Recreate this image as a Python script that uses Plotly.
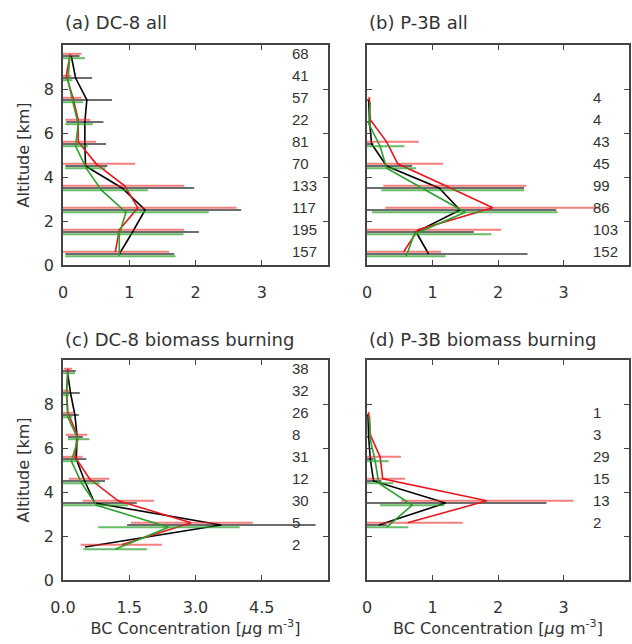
import plotly.graph_objects as go
from plotly.subplots import make_subplots

# ---- data (altitude bins in km, BC in ug m-3) ----
a_alt = [9.5, 8.5, 7.5, 6.5, 5.5, 4.5, 3.5, 2.5, 1.5, 0.5]
a_n = [68, 41, 57, 22, 81, 70, 133, 117, 195, 157]
a_black = [0.125, 0.19, 0.36, 0.33, 0.33, 0.34, 0.89, 1.24, 1.05, 0.85]
a_black_lo = [0, 0, 0, 0.05, 0, 0.035, 0, 0, 0, 0.035]
a_black_hi = [0.25, 0.44, 0.74, 0.61, 0.65, 0.67, 1.98, 2.69, 2.05, 1.68]
a_red = [0.11, 0.05, 0.15, 0.23, 0.23, 0.5, 0.93, 1.13, 0.85, 0.79]
a_red_lo = [0, 0, 0, 0.035, 0, 0, 0, 0, 0, 0]
a_red_hi = [0.28, 0.125, 0.28, 0.41, 0.5, 1.09, 1.83, 2.62, 1.83, 1.6]
a_green = [0.10, 0.075, 0.15, 0.23, 0.19, 0.35, 0.58, 0.95, 0.85, 0.85]
a_green_lo = [0, 0, 0, 0.035, 0, 0.035, 0, 0, 0, 0.035]
a_green_hi = [0.33, 0.14, 0.30, 0.45, 0.38, 0.64, 1.28, 2.2, 1.82, 1.7]

b_alt = [7.5, 6.5, 5.5, 4.5, 3.5, 2.5, 1.5, 0.5]
b_n = [4, 4, 43, 45, 99, 86, 103, 152]
b_black = [0.025, 0.04, 0.07, 0.30, 1.1, 1.42, 0.75, 0.94]
b_black_lo = [0, 0, 0, 0, 0, 0, 0, 0]
b_black_hi = [0.04, 0.05, 0.1, 0.69, 2.4, 2.89, 1.63, 2.45]
b_red = [0.035, 0.05, 0.3, 0.47, 1.2, 1.92, 0.78, 0.56]
b_red_lo = [0.02, 0.04, 0, 0, 0.25, 0.28, 0, 0]
b_red_hi = [0.05, 0.06, 0.79, 1.16, 2.43, 3.55, 2.05, 1.13]
b_green = [0.05, 0.03, 0.2, 0.3, 0.9, 1.5, 0.72, 0.6]
b_green_lo = [0.04, 0.02, 0, 0, 0.22, 0.075, 0, 0]
b_green_hi = [0.06, 0.04, 0.57, 0.75, 2.4, 2.91, 1.9, 1.2]

c_alt = [9.5, 8.5, 7.5, 6.5, 5.5, 4.5, 3.5, 2.5, 1.5]
c_n = [38, 32, 26, 8, 31, 12, 30, 5, 2]
c_black = [0.1, 0.17, 0.27, 0.32, 0.30, 0.49, 0.72, 3.58, 0.5]
c_black_lo = [0, 0, 0, 0.11, 0, 0, 0, 1.45, 0.5]
c_black_hi = [0.29, 0.38, 0.36, 0.45, 0.53, 0.95, 1.67, 5.72, 0.5]
c_red = [0.11, 0.08, 0.11, 0.32, 0.27, 0.6, 1.25, 2.9, 1.33]
c_red_lo = [0.02, 0, 0, 0.06, 0, 0.13, 0.45, 1.54, 0.4]
c_red_hi = [0.21, 0.15, 0.23, 0.55, 0.44, 1.05, 2.06, 4.3, 2.24]
c_green = [0.11, 0.08, 0.11, 0.34, 0.19, 0.42, 0.76, 2.39, 1.18]
c_green_lo = [0, 0, 0, 0.11, 0, 0, 0, 0.8, 0.46]
c_green_hi = [0.27, 0.14, 0.21, 0.6, 0.36, 0.83, 1.48, 4.0, 1.9]

d_alt = [7.5, 6.5, 5.5, 4.5, 3.5, 2.5]
d_n = [1, 3, 29, 15, 13, 2]
d_black = [0.015, 0.025, 0.05, 0.1, 1.2, 0.18]
d_black_lo = [0, 0, 0, 0, 0, 0]
d_black_hi = [0.03, 0.04, 0.1, 0.22, 2.74, 0.3]
d_red = [0.025, 0.05, 0.2, 0.24, 1.83, 0.62]
d_red_lo = [0.01, 0.03, 0, 0, 0.52, 0]
d_red_hi = [0.04, 0.07, 0.52, 0.58, 3.15, 1.46]
d_green = [0.04, 0.05, 0.125, 0.18, 0.69, 0.3]
d_green_lo = [0.03, 0.04, 0, 0, 0.2, 0]
d_green_hi = [0.05, 0.06, 0.33, 0.4, 1.18, 0.63]

titles = ["(a) DC-8 all", "(b) P-3B all",
          "(c) DC-8 biomass burning", "(d) P-3B biomass burning"]

FONT = "Liberation Sans, Arial, sans-serif"
WIDE = "DejaVu Sans, Verdana, sans-serif"
TXT = "#333333"

fig = make_subplots(rows=2, cols=2)

panels = [
    (1, 1, a_alt, a_n, [(a_black, a_black_lo, a_black_hi), (a_red, a_red_lo, a_red_hi), (a_green, a_green_lo, a_green_hi)]),
    (1, 2, b_alt, b_n, [(b_black, b_black_lo, b_black_hi), (b_red, b_red_lo, b_red_hi), (b_green, b_green_lo, b_green_hi)]),
    (2, 1, c_alt, c_n, [(c_black, c_black_lo, c_black_hi), (c_red, c_red_lo, c_red_hi), (c_green, c_green_lo, c_green_hi)]),
    (2, 2, d_alt, d_n, [(d_black, d_black_lo, d_black_hi), (d_red, d_red_lo, d_red_hi), (d_green, d_green_lo, d_green_hi)]),
]

# line colour, error-bar colour, small vertical offset so the bars don't overlap
styles = [
    ("black", "rgba(60,60,60,0.75)", 0.0),
    ("#e8161c", "rgba(235,40,40,0.6)", 0.1),
    ("#2ca02c", "rgba(40,160,40,0.7)", -0.1),
]

for row, col, alt, counts, series in panels:
    for (mean, lo, hi), (lc, ec, dz) in zip(series, styles):
        fig.add_trace(go.Scatter(
            x=mean, y=[z + dz for z in alt], mode="lines",
            line=dict(color=lc, width=1.6),
            error_x=dict(type="data", symmetric=False,
                         array=[h - m for h, m in zip(hi, mean)],
                         arrayminus=[m - l for m, l in zip(mean, lo)],
                         color=ec, thickness=2, width=0),
            showlegend=False,
        ), row=row, col=col)
    xlab = 5.14 if (row, col) == (2, 1) else 3.42
    for z, n in zip(alt, counts):
        fig.add_annotation(x=xlab, y=z + 0.13, text=str(n), showarrow=False,
                           xanchor="left", yanchor="middle",
                           font=dict(size=15, color=TXT, family=FONT),
                           row=row, col=col)

# panel geometry (pixels -> paper)
W, H = 632, 644
xdom = [(63 / W, 328 / W), (367 / W, 629 / W)]
ydom = [(1 - 265 / H, 1 - 45 / H), (1 - 580 / H, 1 - 360 / H)]

axis_common = dict(showline=True, linecolor="#444444", linewidth=1.5, mirror="ticks",
                   ticks="inside", ticklen=5, tickcolor="#444444",
                   showgrid=False, zeroline=False, automargin=False,
                   tickfont=dict(size=16, color=TXT, family=WIDE))

for r in (1, 2):
    for c in (1, 2):
        if (r, c) == (2, 1):
            xt = dict(range=[0, 6], tickvals=[0, 1.5, 3, 4.5], ticktext=["0.0", "1.5", "3.0", "4.5"])
        else:
            xt = dict(range=[0, 4], tickvals=[0, 1, 2, 3])
        fig.update_xaxes(domain=xdom[c - 1], ticklabelstandoff=12, **xt, **axis_common, row=r, col=c)
        fig.update_yaxes(domain=ydom[r - 1], range=[0, 10], tickvals=[0, 2, 4, 6, 8],
                         showticklabels=(c == 1), ticklabelstandoff=4, **axis_common, row=r, col=c)
        if c == 1:
            fig.update_yaxes(title=dict(text="Altitude [km]", font=dict(size=16, color=TXT, family=WIDE),
                                        standoff=10), row=r, col=c)
        if r == 2:
            fig.update_xaxes(title=dict(text="BC Concentration [<i>μ</i>g m<sup>-3</sup>]",
                                        font=dict(size=16, color=TXT, family=WIDE), standoff=6),
                             row=r, col=c)

pos = [(63, 22), (367, 22), (63, 339), (367, 339)]
for t, (px, py) in zip(titles, pos):
    fig.add_annotation(x=px / W, y=1 - py / H, xref="paper", yref="paper", text=t,
                       showarrow=False, xanchor="left", yanchor="middle",
                       font=dict(size=18, color=TXT, family=WIDE))

fig.update_layout(width=W, height=H, margin=dict(l=0, r=0, t=0, b=0),
                  plot_bgcolor="white", paper_bgcolor="white")

# the page body has a default margin; drop it so the figure sits at the window corner
fig.write_html("out.html", config={"displayModeBar": False},
               post_script="document.body.style.margin='0';document.body.style.overflow='hidden';")
